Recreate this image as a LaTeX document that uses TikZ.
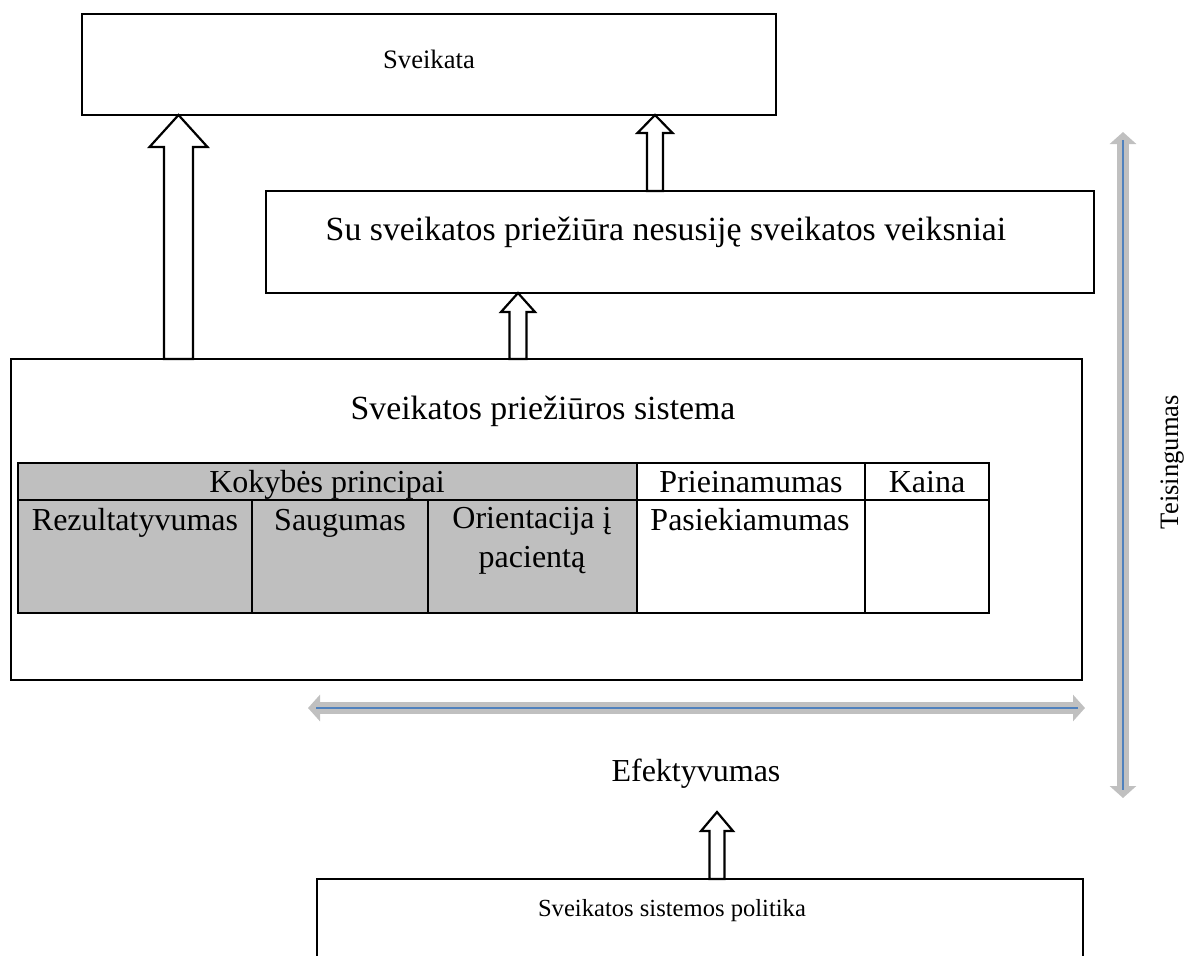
\documentclass[tikz,border=0pt]{standalone}
\usepackage{fontspec}
\setmainfont{Liberation Serif}
\usetikzlibrary{arrows.meta,calc}

\definecolor{cellgrey}{RGB}{191,191,191}
\definecolor{arrowgrey}{RGB}{192,192,192}
\definecolor{lineblue}{RGB}{79,129,189}

\tikzset{
    box/.style={draw, line width=1.1pt, inner sep=0pt, outer sep=0pt},
    hollow/.style={draw, line width=1.1pt, fill=white, line join=miter},
    lbl/.style={anchor=base, inner sep=0pt, font=\fontsize{16}{18}\selectfont},
    twoway/.style={draw=arrowgrey, line width=5.8pt,
        {Triangle[width=13pt,length=6pt]}-{Triangle[width=13pt,length=6pt]}},
    midline/.style={draw=lineblue, line width=0.6pt}
}

% x, from, to, shaft half width, head half width, head length
\newcommand\hollowarrow[6]{%
    \draw[hollow] let \p1=(#2), \p2=(#3), \p3=(#1,0) in
        (\x3-#4,\y1) -- (\x3-#4,\y2-#6) -- (\x3-#5,\y2-#6) -- (\x3,\y2)
        -- (\x3+#5,\y2-#6) -- (\x3+#4,\y2-#6) -- (\x3+#4,\y1) -- cycle;
}

\begin{document}
\begin{tikzpicture}[x=0.5pt,y=-0.5pt]
    \useasboundingbox (0,0) rectangle (1191,955);

    \node[box, minimum width=347pt, minimum height=50.5pt] (health) at (429,64.5) {};
    \node[box, minimum width=414pt, minimum height=51pt] (factors) at (680,242) {};
    \node[box, minimum width=535.5pt, minimum height=160.5pt] (sys) at (546.5,519.5) {};
    \node[box, minimum width=383pt, minimum height=60.5pt] (pol) at (700,939.5) {};
    \coordinate (efftip) at (717,812);

    \hollowarrow{178.5}{sys.north}{health.south}{7.25pt}{14.5pt}{16pt}
    \hollowarrow{655}{factors.north}{health.south}{4pt}{8.75pt}{9pt}
    \hollowarrow{518}{sys.north}{factors.south}{4.25pt}{8.5pt}{9.5pt}
    \hollowarrow{717}{pol.north}{efftip}{3.75pt}{8pt}{9.5pt}

    % table
    \fill[cellgrey] (18,463) rectangle (637,613);
    \draw[line width=1.1pt] (18,463) rectangle (989,613);
    \draw[line width=1.1pt] (18,500) -- (989,500);
    \foreach \x in {637,865} {
        \draw[line width=1.1pt] (\x,463) -- (\x,613);
    }
    \foreach \x in {252,428} {
        \draw[line width=1.1pt] (\x,500) -- (\x,613);
    }

    \node[lbl, font=\fontsize{13.3}{16}\selectfont] (healthtxt) at (429,68) {Sveikata};
    \node[lbl, font=\fontsize{16.9}{19}\selectfont] (factorstxt) at (666,240) {Su sveikatos priežiūra nesusiję sveikatos veiksniai};
    \node[lbl, font=\fontsize{16.9}{19}\selectfont] (systxt) at (543,419) {Sveikatos priežiūros sistema};
    \node[lbl] (quality) at (327,492) {Kokybės principai};
    \node[lbl] (access) at (751,492) {Prieinamumas};
    \node[lbl] (price) at (927,492) {Kaina};
    \node[lbl] (result) at (135,530) {Rezultatyvumas};
    \node[lbl] (safety) at (340,530) {Saugumas};
    \node[lbl, align=center, anchor=north, font=\fontsize{16}{19.5}\selectfont] (patient) at (532,507) {Orientacija į\\pacientą};
    \node[lbl] (reach) at (750,530) {Pasiekiamumas};
    \node[lbl] (eff) at (696,781) {Efektyvumas};
    \node[lbl, rotate=90, font=\fontsize{13.3}{16}\selectfont] (equity) at (1178,462) {Teisingumas};
    \node[lbl, font=\fontsize{12.3}{15}\selectfont] (poltxt) at (672,916) {Sveikatos sistemos politika};

    \coordinate (effL) at (308,708);
    \coordinate (effR) at (1085,708);
    \draw[twoway] (effL) -- (effR);
    \draw[midline, shorten <=4pt, shorten >=3.5pt] (effL) -- (effR);
    \coordinate (eqT) at (1123,132);
    \coordinate (eqB) at (1123,798);
    \draw[twoway] (eqT) -- (eqB);
    \draw[midline, shorten <=4pt, shorten >=4pt] (eqT) -- (eqB);
\end{tikzpicture}
\end{document}
